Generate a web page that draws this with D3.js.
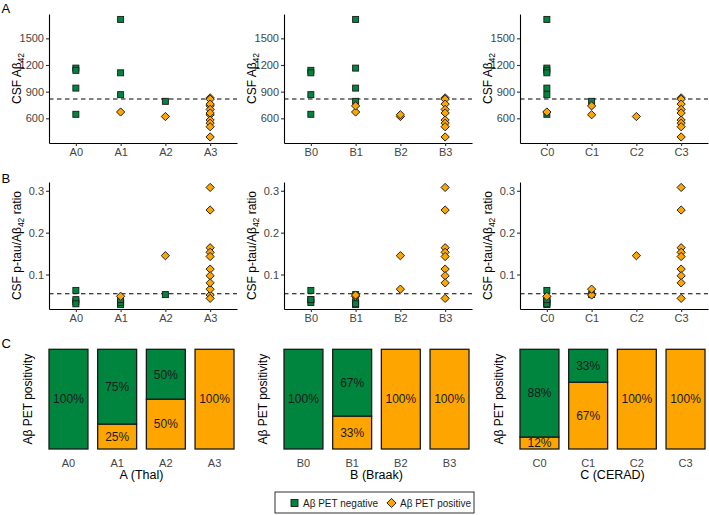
<!DOCTYPE html>
<html>
<head>
<meta charset="utf-8">
<script src="https://cdn.jsdelivr.net/npm/d3@7"></script>
<style>
  html, body { margin: 0; padding: 0; background: #fff; }
  svg { display: block; font-family: "Liberation Sans", Arial, Helvetica, sans-serif; }
</style>
</head>
<body>
<svg id="chart" width="709" height="515"></svg>
<script>
// ---------- DATA (one entry per patient) ----------
const petStatus = ["neg","neg","neg","neg","neg","neg","neg","neg",
                   "pos","pos","pos","pos","pos","pos","pos","pos","pos","pos","pos","pos","pos"];
const thalStage  = ["A1","A0","A0","A1","A0","A1","A0","A2",
                    "A1","A2","A3","A3","A3","A3","A3","A3","A3","A3","A3","A3","A3"];
const braakStage = ["B1","B1","B0","B0","B1","B0","B0","B1",
                    "B1","B2","B1","B2","B3","B3","B3","B3","B3","B3","B3","B3","B3"];
const ceradStage = ["C0","C0","C0","C0","C0","C0","C0","C1",
                    "C0","C2","C1","C1","C3","C3","C3","C3","C3","C3","C3","C3","C3"];
const csfAbeta42 = [1713, 1165, 1140, 1112, 940, 866, 645, 791,
                    671, 620, 740, 640, 830, 815, 760, 700, 660, 580, 545, 505, 390];
const ptauRatio  = [0.028, 0.035, 0.040, 0.033, 0.030, 0.040, 0.062, 0.052,
                    0.048, 0.145, 0.051, 0.065, 0.308, 0.254, 0.164, 0.153, 0.143, 0.113, 0.097, 0.080, 0.043];

// Categories
const thalCats  = ["A0","A1","A2","A3"];
const braakCats = ["B0","B1","B2","B3"];
const ceradCats = ["C0","C1","C2","C3"];

// Panel C: % Aβ PET positive per stage (negative = 100 - positive)
const thalPosPct  = [0, 25, 50, 100];
const braakPosPct = [0, 33, 100, 100];
const ceradPosPct = [12, 67, 100, 100];

// Axis ticks
const abetaTicks = [600, 900, 1200, 1500];
const ratioTicks = [0.1, 0.2, 0.3];
const abetaCutoff = 817;
const ratioCutoff = 0.054;

const xTitles = ["A (Thal)", "B (Braak)", "C (CERAD)"];
const legendLabels = ["Aβ PET negative", "Aβ PET positive"];

// ---------- STYLE ----------
const GREEN = "#00853f", ORANGE = "#FFA500", TICKCOL = "#444444";
const svg = d3.select("#chart");

const patients = petStatus.map((s, i) => ({
  status: s, A: thalStage[i], B: braakStage[i], C: ceradStage[i],
  abeta: csfAbeta42[i], ratio: ptauRatio[i]
}));

const groups = [
  {key: "A", cats: thalCats,  pos: thalPosPct,  x0: 49},
  {key: "B", cats: braakCats, pos: braakPosPct, x0: 284},
  {key: "C", cats: ceradCats, pos: ceradPosPct, x0: 520}
];
const panelW = 188;

const rows = [
  {field: "abeta", top: 14, bottom: 143, domain: [322, 1774], ticks: abetaTicks, fmt: d3.format("d"), cut: abetaCutoff,
   title: [["CSF Aβ", false], ["42", true]]},
  {field: "ratio", top: 182, bottom: 309, domain: [0.0176, 0.321], ticks: ratioTicks, fmt: d3.format(".1f"), cut: ratioCutoff,
   title: [["CSF p-tau/Aβ", false], ["42", true], [" ratio", false]]}
];

function styleAxis(g) {
  g.selectAll(".domain").attr("stroke", "#000").attr("stroke-width", 1.1);
  g.selectAll(".tick line").attr("stroke", "#333").attr("stroke-width", 1.1);
  g.selectAll(".tick text").attr("fill", TICKCOL).attr("font-size", "11px")
    .attr("font-family", '"Liberation Sans", Arial, sans-serif');
}

function rotTitle(x, y, parts) {
  const t = svg.append("text")
    .attr("transform", `translate(${x},${y}) rotate(-90)`)
    .attr("text-anchor", "middle").attr("font-size", "12px").attr("fill", "#000");
  let shifted = false;
  parts.forEach(([s, sub]) => {
    const ts = t.append("tspan").text(s);
    if (sub) { ts.attr("font-size", "8.5px").attr("dy", 2.5); shifted = true; }
    else if (shifted) { ts.attr("dy", -2.5); shifted = false; }
  });
}

// ---------- Rows A and B (dot plots) ----------
rows.forEach(row => {
  const y = d3.scaleLinear().domain(row.domain).range([row.bottom, row.top]);
  groups.forEach(grp => {
    const x = d3.scalePoint().domain(grp.cats).range([grp.x0, grp.x0 + panelW]).padding(0.6);
    const g = svg.append("g");

    // cutoff line
    g.append("line")
      .attr("x1", grp.x0).attr("x2", grp.x0 + panelW)
      .attr("y1", y(row.cut)).attr("y2", y(row.cut))
      .attr("stroke", "#000").attr("stroke-width", 1.1).attr("stroke-dasharray", "4.5,3.5");

    // points
    patients.forEach(p => {
      const cx = x(p[grp.key]), cy = y(p[row.field]);
      if (p.status === "neg") {
        g.append("rect").attr("x", cx - 3).attr("y", cy - 3).attr("width", 6).attr("height", 6)
          .attr("fill", GREEN).attr("stroke", "#1a1a1a").attr("stroke-width", 0.9);
      } else {
        g.append("path").attr("transform", `translate(${cx},${cy}) rotate(45)`)
          .attr("d", d3.symbol().type(d3.symbolSquare).size(34)())
          .attr("fill", ORANGE).attr("stroke", "#1a1a1a").attr("stroke-width", 0.9);
      }
    });

    // axes
    const ax = svg.append("g").attr("transform", `translate(${grp.x0},0)`)
      .call(d3.axisLeft(y).tickValues(row.ticks).tickFormat(row.fmt).tickSize(3).tickSizeOuter(0).tickPadding(2));
    styleAxis(ax);
    const bx = svg.append("g").attr("transform", `translate(0,${row.bottom})`)
      .call(d3.axisBottom(x).tickSize(3).tickSizeOuter(0).tickPadding(2));
    styleAxis(bx);

    rotTitle(grp.x0 - 28, (row.top + row.bottom) / 2, row.title);
  });
});

// ---------- Row C (stacked bars) ----------
const barTop = 349.3, barBottom = 449;
const yb = d3.scaleLinear().domain([0, 100]).range([barBottom, barTop]);
groups.forEach((grp, gi) => {
  const xb = d3.scaleBand().domain(grp.cats).range([grp.x0, grp.x0 + 185]).paddingInner(0.2).paddingOuter(0);
  const g = svg.append("g");
  grp.cats.forEach((c, i) => {
    const posv = grp.pos[i], negv = 100 - posv;
    const segs = [
      {v0: 0, v1: posv, fill: ORANGE, v: posv},
      {v0: posv, v1: 100, fill: GREEN, v: negv}
    ];
    segs.forEach(s => {
      if (s.v <= 0) return;
      g.append("rect").attr("x", xb(c)).attr("width", xb.bandwidth())
        .attr("y", yb(s.v1)).attr("height", yb(s.v0) - yb(s.v1))
        .attr("fill", s.fill).attr("stroke", "#1a1a1a").attr("stroke-width", 1.3);
    });
    segs.forEach(s => {
      if (s.v <= 0) return;
      g.append("text").attr("x", xb(c) + xb.bandwidth() / 2).attr("y", (yb(s.v0) + yb(s.v1)) / 2)
        .attr("dy", "0.36em").attr("text-anchor", "middle").attr("font-size", "12px")
        .attr("fill", "#1a1a1a").text(s.v + "%");
    });
  });
  const bx = svg.append("g").attr("transform", `translate(0,${barBottom})`)
    .call(d3.axisBottom(xb).tickSize(0).tickPadding(10));
  bx.select(".domain").remove();
  styleAxis(bx);
  svg.append("text").attr("x", grp.x0 + 92.5).attr("y", 479).attr("text-anchor", "middle")
    .attr("font-size", "12.5px").attr("fill", "#000").text(xTitles[gi]);
  rotTitle(grp.x0 - 17, (barTop + barBottom) / 2, [["Aβ PET positivity", false]]);
});

// ---------- Panel letters ----------
[["A", 13], ["B", 183], ["C", 348]].forEach(([l, yy]) => {
  svg.append("text").attr("x", 1.5).attr("y", yy).attr("font-size", "13px").attr("fill", "#000").text(l);
});

// ---------- Legend ----------
const lg = svg.append("g");
lg.append("rect").attr("x", 275).attr("y", 492).attr("width", 199).attr("height", 21)
  .attr("fill", "#fff").attr("stroke", "#1a1a1a").attr("stroke-width", 0.9);
lg.append("rect").attr("x", 291).attr("y", 499.5).attr("width", 7).attr("height", 7)
  .attr("fill", GREEN).attr("stroke", "#1a1a1a").attr("stroke-width", 0.9);
lg.append("text").attr("x", 303).attr("y", 506.5).attr("font-size", "10px").attr("fill", "#1a1a1a").text(legendLabels[0]);
lg.append("path").attr("transform", "translate(391.5,503) rotate(45)")
  .attr("d", d3.symbol().type(d3.symbolSquare).size(42)())
  .attr("fill", ORANGE).attr("stroke", "#1a1a1a").attr("stroke-width", 0.9);
lg.append("text").attr("x", 400).attr("y", 506.5).attr("font-size", "10px").attr("fill", "#1a1a1a").text(legendLabels[1]);
</script>
</body>
</html>
